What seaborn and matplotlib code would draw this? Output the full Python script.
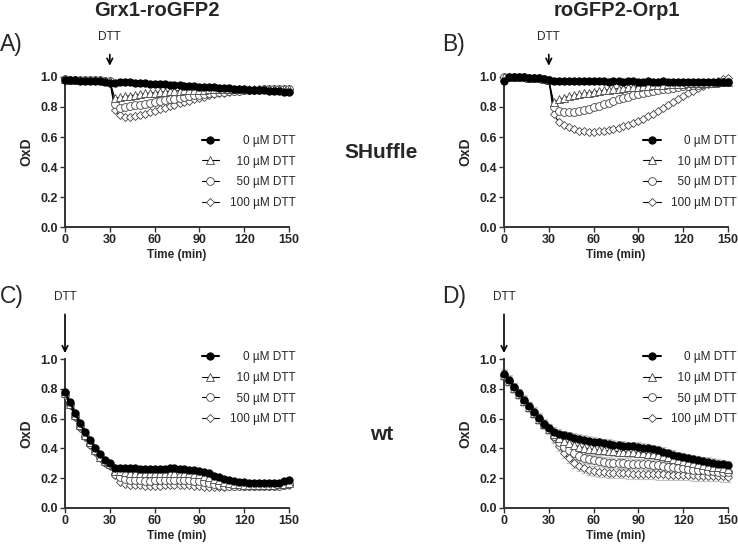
import numpy as np
import pandas as pd
import seaborn as sns
import matplotlib.pyplot as plt

# sampling times (min)
time = [0, 3.3, 6.7, 10, 13.3, 16.7, 20, 23.3, 26.7, 30,
        33.3, 36.7, 40, 43.3, 46.7, 50, 53.3, 56.7, 60, 63.3,
        66.7, 70, 73.3, 76.7, 80, 83.3, 86.7, 90, 93.3, 96.7,
        100, 103.3, 106.7, 110, 113.3, 116.7, 120, 123.3, 126.7, 130,
        133.3, 136.7, 140, 143.3, 146.7, 150]

dtt_labels = ['0 µM DTT', '10 µM DTT', '50 µM DTT', '100 µM DTT']

# A) Grx1-roGFP2, SHuffle
a_0 = [0.980, 0.978, 0.977, 0.975, 0.974, 0.972, 0.971, 0.970, 0.968, 0.962,
       0.960, 0.965, 0.966, 0.964, 0.962, 0.960, 0.958, 0.956, 0.954, 0.952,
       0.950, 0.948, 0.946, 0.944, 0.942, 0.940, 0.938, 0.936, 0.934, 0.932,
       0.930, 0.928, 0.926, 0.924, 0.922, 0.920, 0.918, 0.916, 0.914, 0.912,
       0.910, 0.908, 0.906, 0.904, 0.902, 0.900]
a_10 = [0.985, 0.983, 0.982, 0.981, 0.980, 0.979, 0.978, 0.977, 0.976, 0.975,
        0.860, 0.865, 0.870, 0.875, 0.880, 0.885, 0.890, 0.893, 0.896, 0.899,
        0.902, 0.905, 0.907, 0.909, 0.911, 0.913, 0.914, 0.915, 0.916, 0.917,
        0.918, 0.919, 0.920, 0.920, 0.920, 0.920, 0.920, 0.920, 0.920, 0.920,
        0.919, 0.919, 0.918, 0.918, 0.917, 0.917]
a_50 = [0.984, 0.983, 0.982, 0.981, 0.980, 0.979, 0.978, 0.977, 0.976, 0.975,
        0.820, 0.795, 0.800, 0.805, 0.810, 0.815, 0.820, 0.826, 0.832, 0.838,
        0.844, 0.850, 0.856, 0.862, 0.867, 0.872, 0.877, 0.882, 0.886, 0.890,
        0.894, 0.898, 0.901, 0.904, 0.907, 0.909, 0.911, 0.913, 0.915, 0.916,
        0.917, 0.918, 0.918, 0.919, 0.919, 0.920]
a_100 = [0.984, 0.983, 0.982, 0.981, 0.980, 0.979, 0.978, 0.977, 0.976, 0.975,
         0.780, 0.745, 0.730, 0.732, 0.738, 0.746, 0.755, 0.765, 0.775, 0.785,
         0.795, 0.805, 0.815, 0.825, 0.834, 0.843, 0.852, 0.861, 0.869, 0.877,
         0.884, 0.890, 0.896, 0.901, 0.905, 0.909, 0.912, 0.914, 0.916, 0.918,
         0.919, 0.920, 0.920, 0.921, 0.921, 0.920]

# B) roGFP2-Orp1, SHuffle
b_0 = [0.970, 1.000, 1.000, 1.000, 0.998, 0.996, 0.994, 0.990, 0.985, 0.978,
       0.972, 0.971, 0.972, 0.971, 0.970, 0.971, 0.970, 0.970, 0.971, 0.970,
       0.970, 0.969, 0.970, 0.970, 0.969, 0.970, 0.970, 0.969, 0.969, 0.970,
       0.969, 0.969, 0.970, 0.969, 0.969, 0.968, 0.969, 0.969, 0.968, 0.969,
       0.968, 0.968, 0.969, 0.968, 0.968, 0.968]
b_10 = [1.000, 1.000, 1.000, 1.000, 0.998, 0.996, 0.993, 0.990, 0.985, 0.980,
        0.830, 0.850, 0.860, 0.870, 0.877, 0.884, 0.890, 0.896, 0.901, 0.906,
        0.911, 0.915, 0.919, 0.923, 0.927, 0.930, 0.933, 0.936, 0.939, 0.942,
        0.944, 0.946, 0.948, 0.950, 0.952, 0.954, 0.956, 0.957, 0.958, 0.960,
        0.961, 0.962, 0.963, 0.964, 0.965, 0.966]
b_50 = [1.000, 1.000, 1.000, 1.000, 0.998, 0.996, 0.993, 0.990, 0.985, 0.980,
        0.800, 0.775, 0.768, 0.766, 0.767, 0.770, 0.778, 0.787, 0.797, 0.807,
        0.818, 0.829, 0.840, 0.850, 0.860, 0.869, 0.877, 0.885, 0.892, 0.899,
        0.905, 0.911, 0.917, 0.922, 0.927, 0.932, 0.937, 0.941, 0.945, 0.949,
        0.953, 0.957, 0.960, 0.963, 0.966, 0.968]
b_100 = [1.000, 1.000, 1.000, 1.000, 0.998, 0.996, 0.993, 0.990, 0.985, 0.980,
         0.750, 0.700, 0.680, 0.665, 0.652, 0.643, 0.638, 0.636, 0.636, 0.638,
         0.642, 0.648, 0.655, 0.663, 0.672, 0.682, 0.693, 0.705, 0.722, 0.738,
         0.755, 0.773, 0.792, 0.812, 0.832, 0.852, 0.872, 0.891, 0.908, 0.924,
         0.938, 0.951, 0.963, 0.974, 0.984, 0.993]

# C) Grx1-roGFP2, wt
c_0 = [0.780, 0.710, 0.640, 0.570, 0.510, 0.455, 0.405, 0.360, 0.325, 0.305,
       0.270, 0.270, 0.268, 0.270, 0.268, 0.265, 0.263, 0.262, 0.262, 0.263,
       0.265, 0.267, 0.268, 0.265, 0.262, 0.258, 0.255, 0.250, 0.242, 0.232,
       0.218, 0.205, 0.194, 0.186, 0.180, 0.176, 0.173, 0.171, 0.170, 0.169,
       0.168, 0.167, 0.167, 0.170, 0.178, 0.188]
c_10 = [0.770, 0.700, 0.625, 0.555, 0.490, 0.440, 0.390, 0.345, 0.315, 0.295,
        0.250, 0.245, 0.240, 0.238, 0.236, 0.235, 0.235, 0.235, 0.236, 0.237,
        0.238, 0.238, 0.238, 0.237, 0.236, 0.234, 0.231, 0.226, 0.218, 0.208,
        0.196, 0.185, 0.175, 0.167, 0.162, 0.159, 0.157, 0.156, 0.156, 0.156,
        0.156, 0.156, 0.157, 0.158, 0.162, 0.168]
c_50 = [0.770, 0.695, 0.620, 0.550, 0.485, 0.430, 0.380, 0.340, 0.310, 0.290,
        0.230, 0.205, 0.195, 0.190, 0.187, 0.185, 0.184, 0.184, 0.185, 0.186,
        0.187, 0.188, 0.188, 0.188, 0.187, 0.186, 0.184, 0.180, 0.173, 0.165,
        0.158, 0.153, 0.150, 0.149, 0.148, 0.148, 0.148, 0.147, 0.148, 0.148,
        0.148, 0.148, 0.149, 0.150, 0.153, 0.158]
c_100 = [0.760, 0.690, 0.610, 0.540, 0.475, 0.425, 0.375, 0.335, 0.305, 0.285,
         0.220, 0.175, 0.162, 0.157, 0.154, 0.152, 0.151, 0.150, 0.150, 0.151,
         0.152, 0.153, 0.154, 0.154, 0.153, 0.152, 0.150, 0.147, 0.143, 0.140,
         0.140, 0.141, 0.143, 0.145, 0.147, 0.148, 0.149, 0.150, 0.150, 0.151,
         0.151, 0.151, 0.152, 0.152, 0.153, 0.155]

# D) roGFP2-Orp1, wt
d_0 = [0.900, 0.860, 0.812, 0.770, 0.726, 0.684, 0.645, 0.605, 0.567, 0.537,
       0.512, 0.500, 0.490, 0.480, 0.472, 0.465, 0.458, 0.451, 0.445, 0.440,
       0.435, 0.430, 0.426, 0.422, 0.419, 0.416, 0.413, 0.410, 0.406, 0.401,
       0.395, 0.387, 0.378, 0.368, 0.358, 0.349, 0.341, 0.334, 0.327, 0.321,
       0.315, 0.309, 0.303, 0.298, 0.293, 0.288]
d_10 = [0.895, 0.855, 0.807, 0.765, 0.720, 0.679, 0.640, 0.600, 0.562, 0.532,
        0.495, 0.470, 0.450, 0.435, 0.422, 0.412, 0.404, 0.398, 0.393, 0.389,
        0.386, 0.383, 0.381, 0.379, 0.377, 0.375, 0.373, 0.371, 0.369, 0.365,
        0.360, 0.354, 0.347, 0.339, 0.331, 0.323, 0.315, 0.308, 0.301, 0.295,
        0.289, 0.283, 0.277, 0.272, 0.267, 0.262]
d_50 = [0.895, 0.855, 0.807, 0.765, 0.720, 0.679, 0.640, 0.600, 0.562, 0.532,
        0.480, 0.445, 0.412, 0.387, 0.366, 0.350, 0.338, 0.328, 0.320, 0.314,
        0.309, 0.305, 0.302, 0.300, 0.299, 0.298, 0.297, 0.296, 0.294, 0.292,
        0.289, 0.286, 0.282, 0.278, 0.274, 0.270, 0.266, 0.262, 0.258, 0.255,
        0.252, 0.249, 0.246, 0.244, 0.242, 0.240]
d_100 = [0.895, 0.855, 0.807, 0.765, 0.720, 0.679, 0.640, 0.600, 0.562, 0.532,
         0.470, 0.415, 0.370, 0.335, 0.305, 0.285, 0.270, 0.258, 0.250, 0.244,
         0.240, 0.237, 0.235, 0.234, 0.233, 0.232, 0.231, 0.230, 0.229, 0.228,
         0.227, 0.226, 0.225, 0.224, 0.223, 0.222, 0.221, 0.220, 0.219, 0.218,
         0.217, 0.216, 0.215, 0.214, 0.212, 0.210]
d_err = [0.030, 0.030, 0.035, 0.035]

# padded labels so the text ends line up (space = half a digit)
legend_text = ['    0 µM DTT', '  10 µM DTT', '  50 µM DTT', '100 µM DTT']

styles = {
    '0 µM DTT': dict(marker='o', markerfacecolor='black', markeredgecolor='black',
                     color='black', linewidth=1.5, markersize=5.2),
    '10 µM DTT': dict(marker='^', markerfacecolor='white', markeredgecolor='#444444',
                      color='black', linewidth=0.8, markersize=5.2, markeredgewidth=0.6),
    '50 µM DTT': dict(marker='o', markerfacecolor='white', markeredgecolor='#444444',
                      color='black', linewidth=0.8, markersize=5.6, markeredgewidth=0.6),
    '100 µM DTT': dict(marker='D', markerfacecolor='white', markeredgecolor='#444444',
                       color='black', linewidth=0.8, markersize=4.2, markeredgewidth=0.6),
}

sns.set_style('ticks')
plt.rcParams['font.family'] = ['Liberation Sans', 'DejaVu Sans']

fig = plt.figure(figsize=(7.38, 5.44), dpi=100)
W, H = 738, 544


def make_axes(x0, x1, ytop, ybot):
    return fig.add_axes([x0 / W, 1 - ybot / H, (x1 - x0) / W, (ybot - ytop) / H])


def draw_panel(ax, series, legend_pos, err=None):
    df = pd.DataFrame({
        'time': time * 4,
        'oxd': sum(series, []),
        'dtt': [lab for lab in dtt_labels for _ in time],
    })
    handles = {}
    for i in [3, 2, 1, 0]:
        lab = dtt_labels[i]
        sub = df[df['dtt'] == lab]
        if err is not None:
            ax.errorbar(sub['time'], sub['oxd'], yerr=err[i], fmt='none',
                        ecolor='#c4c4c4', elinewidth=0.8, capsize=2.5,
                        capthick=0.8, zorder=1, clip_on=False)
        sns.lineplot(data=sub, x='time', y='oxd', ax=ax, errorbar=None,
                     label=legend_text[i], clip_on=False, zorder=3 + (3 - i),
                     **styles[lab])
        handles[i] = ax.get_lines()[-1]
    ax.legend([handles[i] for i in range(4)], legend_text, frameon=False,
              loc='upper right', bbox_to_anchor=legend_pos, borderaxespad=0,
              fontsize=8.5, handlelength=1.5, handletextpad=0.9,
              labelspacing=0.75, borderpad=0)
    ax.set_xlim(0, 150)
    ax.set_ylim(0, 1.0)
    ax.set_xticks([0, 30, 60, 90, 120, 150])
    ax.set_yticks([0.0, 0.2, 0.4, 0.6, 0.8, 1.0])
    ax.set_yticklabels(['0.0', '0.2', '0.4', '0.6', '0.8', '1.0'])
    ax.set_xlabel('Time (min)', fontsize=8.5, fontweight='bold', labelpad=2)
    ax.set_ylabel('OxD', fontsize=10, fontweight='bold', labelpad=5)
    ax.tick_params(labelsize=9, length=3.5, width=1, pad=1.5, color='#333333')
    for t in ax.get_xticklabels() + ax.get_yticklabels():
        t.set_fontweight('bold')
    for s in ['left', 'bottom']:
        ax.spines[s].set_linewidth(1.4)
        ax.spines[s].set_color('#333333')
    sns.despine(ax=ax)


axA = make_axes(65, 289, 77, 227)
axB = make_axes(504, 728, 77, 227)
axC = make_axes(65, 289, 359, 508)
axD = make_axes(504, 728, 359, 508)

draw_panel(axA, [a_0, a_10, a_50, a_100], (1.03, 0.615))
draw_panel(axB, [b_0, b_10, b_50, b_100], (1.04, 0.615))
draw_panel(axC, [c_0, c_10, c_50, c_100], (1.03, 1.055))
draw_panel(axD, [d_0, d_10, d_50, d_100], (1.04, 1.055), err=d_err)

# DTT addition arrows
for ax in [axA, axB]:
    ax.text(30, 1.265, 'DTT', ha='center', va='center', fontsize=8.5, clip_on=False)
    ax.annotate('', xy=(30, 1.075), xytext=(30, 1.15), annotation_clip=False,
                arrowprops=dict(arrowstyle='->', lw=1.2, color='black',
                                shrinkA=0, shrinkB=0))
for ax in [axC, axD]:
    ax.text(0, 1.415, 'DTT', ha='center', va='center', fontsize=8.5, clip_on=False)
    ax.annotate('', xy=(0, 1.04), xytext=(0, 1.30), annotation_clip=False,
                arrowprops=dict(arrowstyle='->', lw=1.2, color='black',
                                shrinkA=0, shrinkB=0))

# titles and labels
fig.text(157 / W, 1 - 11 / H, 'Grx1-roGFP2', ha='center', va='center',
         fontsize=14.5, fontweight='bold')
fig.text(617 / W, 1 - 11 / H, 'roGFP2-Orp1', ha='center', va='center',
         fontsize=14.5, fontweight='bold')
fig.text(381 / W, 1 - 152 / H, 'SHuffle', ha='center', va='center',
         fontsize=15, fontweight='bold')
fig.text(382 / W, 1 - 434 / H, 'wt', ha='center', va='center',
         fontsize=15, fontweight='bold')
for lbl, x, y in [('A)', 0, 44), ('B)', 442, 44), ('C)', 0, 297), ('D)', 442, 297)]:
    fig.text(x / W, 1 - y / H, lbl, ha='left', va='center', fontsize=16.5)

fig.savefig('out.png', dpi=100)
